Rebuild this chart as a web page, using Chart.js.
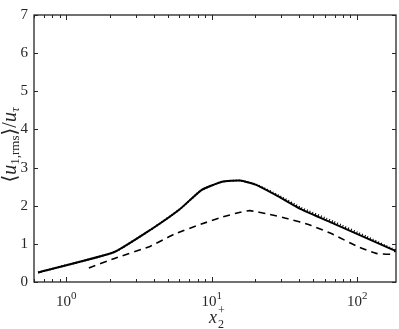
<!DOCTYPE html>
<html>
<head>
<meta charset="utf-8">
<script src="https://cdn.jsdelivr.net/npm/chart.js@4.4.0/dist/chart.umd.min.js"></script>
<style>
  html, body { margin: 0; padding: 0; background: #fff; }
  #wrap { width: 399px; height: 329px; position: relative; }
</style>
</head>
<body>
<div id="wrap"><canvas id="rmsChart"></canvas></div>
<script>
// --- Chart Data ---
const solidX = [0.64, 2.12, 3.8, 6.0, 8.5, 11.8, 15.7, 20.4, 28.5, 41, 69, 116, 172, 185];
const solidY = [0.25, 0.78, 1.37, 1.9, 2.41, 2.63, 2.66, 2.54, 2.25, 1.91, 1.53, 1.15, 0.86, 0.82];
const dottedX = [0.64, 2.12, 3.8, 6.0, 8.5, 11.8, 15.7, 20.4, 28.5, 41, 69, 116, 172, 185];
const dottedY = [0.25, 0.78, 1.37, 1.9, 2.41, 2.63, 2.66, 2.55, 2.28, 1.95, 1.58, 1.19, 0.88, 0.84];
const dashedX = [1.43, 2.12, 3.8, 5.5, 8.5, 11.8, 15.7, 18.3, 24.5, 33.4, 47.8, 69, 99.4, 135, 172, 185];
const dashedY = [0.37, 0.61, 0.94, 1.25, 1.52, 1.70, 1.83, 1.87, 1.78, 1.66, 1.49, 1.24, 0.94, 0.75, 0.73, 0.83];
const xMajorTicks = [1, 10, 100];
const xTickExps = ['0', '1', '2'];
const yTicks = [0, 1, 2, 3, 4, 5, 6, 7];

const pts = (xs, ys) => xs.map((x, i) => ({ x: x, y: ys[i] }));
const serif = '"Liberation Serif", "DejaVu Serif", serif';
const ink = '#262626';

// draw a run of [text, font, dy] pieces starting at x0
function drawRun(ctx, parts, x0, y0, center) {
    let w = 0;
    parts.forEach(p => { ctx.font = p[1] + ' ' + serif; w += ctx.measureText(p[0]).width; });
    let x = center ? x0 - w / 2 : x0;
    parts.forEach(p => {
        ctx.font = p[1] + ' ' + serif;
        ctx.fillText(p[0], x, y0 + p[2]);
        x += ctx.measureText(p[0]).width;
    });
}

// inward ticks on all four sides, x tick labels and axis titles
const frameTicks = {
    id: 'frameTicks',
    afterDraw(chart) {
        const { ctx, chartArea: a, scales } = chart;
        const xs = scales.x, ys = scales.y;
        ctx.save();
        ctx.strokeStyle = ink;
        ctx.lineWidth = 1;
        ctx.beginPath();
        for (let d = -1; d <= 2; d++) {
            for (let m = 1; m <= 9; m++) {
                const v = m * Math.pow(10, d);
                if (v < xs.min || v > xs.max) continue;
                const px = Math.round(xs.getPixelForValue(v)) + 0.5;
                const len = m === 1 ? 5 : 3;
                ctx.moveTo(px, a.bottom); ctx.lineTo(px, a.bottom - len);
                ctx.moveTo(px, a.top); ctx.lineTo(px, a.top + len);
            }
        }
        yTicks.forEach(v => {
            const py = Math.round(ys.getPixelForValue(v)) + 0.5;
            ctx.moveTo(a.left, py); ctx.lineTo(a.left + 4, py);
            ctx.moveTo(a.right, py); ctx.lineTo(a.right - 4, py);
        });
        ctx.stroke();
        ctx.lineWidth = 1.3;
        ctx.strokeRect(a.left, a.top, a.right - a.left, a.bottom - a.top);

        ctx.fillStyle = ink;
        ctx.textBaseline = 'alphabetic';
        ctx.textAlign = 'left';

        // x tick labels 10^n
        xMajorTicks.forEach((v, i) => {
            const px = xs.getPixelForValue(v);
            drawRun(ctx, [['10', '15px', 0], [xTickExps[i], '11px', -7]], px, 306, true);
        });

        // x title: x_2^+
        const cx = (a.left + a.right) / 2;
        ctx.font = 'italic 18px ' + serif;
        ctx.fillText('x', cx - 6, 323);
        ctx.font = '12px ' + serif;
        ctx.fillText('2', cx + 3, 328);
        ctx.fillText('+', cx + 3, 314);

        // y title: <u_{1,rms}>/u_tau, rotated
        ctx.translate(16, 145);
        ctx.rotate(-Math.PI / 2);
        drawRun(ctx, [
            ['\u27E8', '20px', 0],
            ['u', 'italic 20px', 0],
            ['1,rms', '13px', 3],
            ['\u27E9', '20px', 0],
            ['/', '20px', 0],
            ['u', 'italic 20px', 0],
            ['\u03C4', 'italic 13px', 3]
        ], 0, 0, true);
        ctx.restore();
    }
};

const lineStyle = { borderColor: '#000', showLine: true, pointRadius: 0, tension: 0.15 };

const rmsCtx = document.getElementById('rmsChart').getContext('2d');
const rmsChart = new Chart(rmsCtx, {
    type: 'scatter',
    data: {
        datasets: [
            { ...lineStyle, label: 'solid', data: pts(solidX, solidY), borderWidth: 2 },
            { ...lineStyle, label: 'dotted', data: pts(dottedX, dottedY), borderWidth: 2, borderDash: [1, 2] },
            { ...lineStyle, label: 'dashed', data: pts(dashedX, dashedY), borderWidth: 1.6, borderDash: [7, 5] }
        ]
    },
    options: {
        responsive: true,
        maintainAspectRatio: false,
        animation: false,
        layout: { padding: { top: 5, right: 3, left: 0, bottom: 0 } },
        plugins: {
            legend: { display: false },
            tooltip: { enabled: false }
        },
        scales: {
            x: {
                type: 'logarithmic',
                min: 0.64,
                max: 185,
                grid: { display: false, drawTicks: false },
                border: { display: false },
                afterBuildTicks: s => { s.ticks = xMajorTicks.map(v => ({ value: v, major: true })); },
                afterFit: s => { s.height = 47; },
                ticks: { display: false }
            },
            y: {
                min: 0,
                max: 7,
                grid: { display: false, drawTicks: false },
                border: { display: false },
                afterBuildTicks: s => { s.ticks = yTicks.map(v => ({ value: v })); },
                afterFit: s => { s.width = 34; },
                ticks: {
                    padding: 6,
                    color: ink,
                    font: { family: serif, size: 15 }
                }
            }
        }
    },
    plugins: [frameTicks]
});
</script>
</body>
</html>
